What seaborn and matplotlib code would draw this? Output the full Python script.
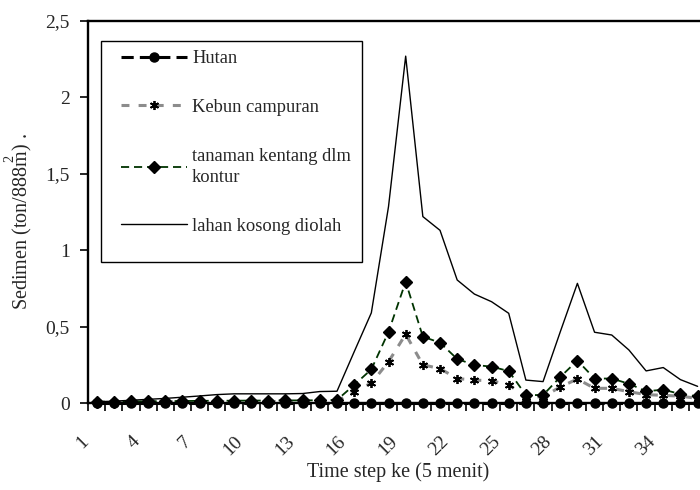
import matplotlib
matplotlib.use("Agg")
import matplotlib.pyplot as plt
import matplotlib.transforms as mtrans
from matplotlib.patches import Rectangle
from matplotlib.ticker import FuncFormatter, FixedLocator
import seaborn as sns
import numpy as np

# ---- data ----
steps = list(range(1, 37))
hutan = [0.003, 0.003, 0.003, 0.003, 0.003, 0.003, 0.003, 0.003, 0.003, 0.003,
         0.003, 0.003, 0.003, 0.003, 0.003, 0.003, 0.003, 0.003, 0.003, 0.003,
         0.003, 0.003, 0.003, 0.003, 0.003, 0.003, 0.003, 0.003, 0.003, 0.003,
         0.003, 0.003, 0.003, 0.003, 0.003, 0.003]
kebun = [0.005, 0.005, 0.006, 0.006, 0.007, 0.007, 0.008, 0.008, 0.009, 0.009,
         0.010, 0.010, 0.010, 0.010, 0.012, 0.075, 0.130, 0.270, 0.450, 0.250,
         0.225, 0.160, 0.150, 0.145, 0.120, 0.040, 0.040, 0.105, 0.157, 0.096,
         0.096, 0.074, 0.055, 0.050, 0.045, 0.030]
kentang = [0.008, 0.009, 0.010, 0.011, 0.012, 0.013, 0.014, 0.015, 0.015, 0.016,
           0.016, 0.017, 0.017, 0.018, 0.020, 0.118, 0.220, 0.465, 0.794, 0.434,
           0.395, 0.288, 0.249, 0.238, 0.209, 0.052, 0.052, 0.170, 0.278, 0.160,
           0.160, 0.126, 0.077, 0.087, 0.059, 0.044]
lahan = [0.008, 0.012, 0.018, 0.024, 0.030, 0.038, 0.046, 0.055, 0.060, 0.060,
         0.060, 0.060, 0.062, 0.075, 0.077, 0.335, 0.590, 1.285, 2.270, 1.220,
         1.130, 0.805, 0.713, 0.663, 0.587, 0.150, 0.140, 0.465, 0.783, 0.463,
         0.445, 0.347, 0.210, 0.232, 0.153, 0.109]
labels = ["Hutan", "Kebun campuran", "tanaman kentang dlm\nkontur", "lahan kosong diolah"]
xtick_vals = [1, 4, 7, 10, 13, 16, 19, 22, 25, 28, 31, 34]
ytick_vals = [0, 0.5, 1, 1.5, 2, 2.5]

sns.set_style("white")
plt.rcParams['font.family'] = ['Liberation Serif', 'DejaVu Serif']
plt.rcParams['mathtext.fontset'] = 'custom'
plt.rcParams['mathtext.rm'] = 'Liberation Serif'
plt.rcParams['mathtext.it'] = 'Liberation Serif:italic'

fig = plt.figure(figsize=(7, 4.9), dpi=100)
ax = fig.add_axes([88/700, 1-403/490, 1-88/700, (403-21)/490])

sns.lineplot(x=steps, y=hutan, ax=ax, color='black', lw=2.2, linestyle=(0, (4, 2)),
             marker='o', markersize=6.5, mfc='black', mec='black', mew=1,
             clip_on=False, errorbar=None)
sns.lineplot(x=steps, y=kebun, ax=ax, color='#8c8c8c', lw=2.2, linestyle=(0, (2.6, 3.0)),
             marker=(6, 2, 0), markersize=6.5, mfc='black', mec='black', mew=1.3,
             clip_on=False, errorbar=None)
sns.lineplot(x=steps, y=kentang, ax=ax, color='#003300', lw=1.3, linestyle=(0, (4.5, 2.7)),
             marker='D', markersize=6, mfc='black', mec='black', mew=1,
             clip_on=False, errorbar=None)
sns.lineplot(x=steps, y=lahan, ax=ax, color='black', lw=1.0, linestyle='-',
             clip_on=False, errorbar=None)

ax.set_xlim(0.5, 36.14)
ax.set_ylim(0, 2.5)

for s in ['left', 'bottom', 'top']:
    ax.spines[s].set_visible(True)
    ax.spines[s].set_color('black')
    ax.spines[s].set_linewidth(1.7)
ax.spines['right'].set_visible(False)

ax.xaxis.set_major_locator(FixedLocator(xtick_vals))
ax.set_xticklabels([str(v) for v in xtick_vals], rotation=45, ha='right', va='center',
                   rotation_mode='anchor', fontsize=14)
ax.xaxis.set_minor_locator(FixedLocator(list(np.arange(0.5, 36.6, 1.0))))
ax.tick_params(axis='x', which='major', bottom=True, length=0, pad=26)
ax.tick_params(axis='x', which='minor', bottom=True, length=5.5, width=1.2,
               direction='out', color='black')
offset = mtrans.ScaledTranslation(-11/100, 0, fig.dpi_scale_trans)
for lab in ax.get_xticklabels():
    lab.set_transform(lab.get_transform() + offset)

ax.set_yticks(ytick_vals)
ax.yaxis.set_major_formatter(FuncFormatter(lambda v, p: f"{v:g}".replace('.', ',')))
ax.tick_params(axis='y', which='major', left=True, length=6, width=1.2,
               direction='out', color='black', pad=7, labelsize=14)
ax.grid(False)

ax.set_xlabel("Time step ke (5 menit)", fontsize=14.5)
ax.xaxis.set_label_coords(0.5065, -0.154)
ax.set_ylabel(r"Sedimen (ton/888$\overset{2}{\mathrm{m}}$) .", fontsize=14.5)
ax.yaxis.set_label_coords(-0.087, 0.476)

fig.patches.append(Rectangle((101/700, 1-262/490), 261/700, 221/490, transform=fig.transFigure,
                             fill=False, ec='black', lw=1.0))
handles = ax.get_lines()[:4]
leg = ax.legend(handles, labels, loc='upper left', bbox_to_anchor=(121/700, 1-50/490),
                bbox_transform=fig.transFigure, frameon=False, borderpad=0, borderaxespad=0,
                handlelength=3.55, handletextpad=0.3, labelspacing=1.72, fontsize=13.3)
for t in leg.get_texts():
    t.set_linespacing(1.35)

fig.savefig("out.png", dpi=100)
